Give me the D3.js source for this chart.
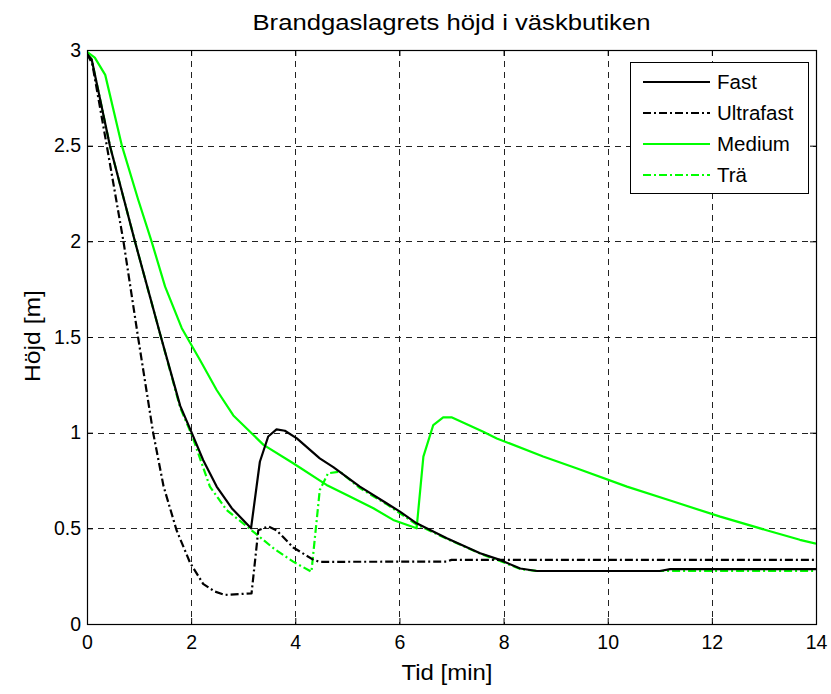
<!DOCTYPE html>
<html>
<head>
<meta charset="utf-8">
<script src="https://cdn.jsdelivr.net/npm/d3@7"></script>
<style>
  body { margin: 0; background: #fff; }
  svg { font-family: "Liberation Sans", Arial, sans-serif; }
</style>
</head>
<body>
<svg id="chart" width="831" height="694"></svg>
<script>
// Tid [min], Höjd [m]
var fast = [
	[0, 2.98], [0.09, 2.95], [0.44, 2.5], [0.92, 2.0], [1.21, 1.71], [1.42, 1.5],
	[1.79, 1.14], [2.01, 1.0], [2.23, 0.857], [2.49, 0.718], [2.78, 0.605], [3.15, 0.50],
	[3.32, 0.848], [3.48, 0.98], [3.64, 1.017], [3.80, 1.01], [4.03, 0.97], [4.47, 0.866],
	[4.73, 0.82], [5.24, 0.718], [5.76, 0.63], [6.01, 0.587], [6.33, 0.526], [6.91, 0.448],
	[7.55, 0.37], [7.93, 0.335], [8.32, 0.29], [8.64, 0.277], [11.0, 0.277], [11.2, 0.287],
	[14, 0.287]
];

var ultrafast = [
	[0, 2.98], [0.1, 2.93], [0.38, 2.5], [0.70, 2.0], [0.98, 1.5], [1.27, 1.0],
	[1.47, 0.72], [1.72, 0.49], [1.98, 0.32], [2.23, 0.21], [2.45, 0.17], [2.65, 0.152],
	[3.16, 0.16], [3.29, 0.49], [3.48, 0.51], [3.64, 0.49], [3.96, 0.40], [4.35, 0.335],
	[4.47, 0.325], [6.91, 0.326], [7.0, 0.335], [14, 0.335]
];

var medium = [
	[0, 2.99], [0.15, 2.96], [0.35, 2.87], [0.67, 2.5], [0.985, 2.216], [1.24, 2.0],
	[1.50, 1.763], [1.82, 1.546], [2.17, 1.38], [2.49, 1.223], [2.81, 1.09], [3.39, 0.936],
	[3.96, 0.84], [4.60, 0.727], [4.99, 0.674], [5.50, 0.605], [5.88, 0.544], [6.33, 0.50],
	[6.46, 0.875], [6.65, 1.04], [6.84, 1.08], [7.0, 1.08], [7.61, 1.005], [7.87, 0.97],
	[8.76, 0.875], [9.40, 0.814], [10.37, 0.718], [11.26, 0.64], [12.16, 0.561],
	[13.05, 0.49], [13.69, 0.44], [14.0, 0.42]
];

var tra = [
	[0, 2.98], [0.09, 2.95], [0.44, 2.5], [0.92, 2.0], [1.21, 1.71], [1.42, 1.5],
	[1.79, 1.13], [2.01, 0.99], [2.36, 0.718], [2.68, 0.596], [3.16, 0.49], [3.58, 0.396],
	[3.96, 0.326], [4.31, 0.273], [4.47, 0.70], [4.63, 0.788], [4.86, 0.796], [5.24, 0.71],
	[5.76, 0.625], [6.33, 0.52], [6.91, 0.445], [7.55, 0.368], [7.93, 0.33], [8.32, 0.287],
	[8.64, 0.277], [14, 0.277]
];

var xTicks = [0, 2, 4, 6, 8, 10, 12, 14];
var yTicks = [0, 0.5, 1, 1.5, 2, 2.5, 3];

var series = [
	{ name: "Fast", data: fast, color: "#000000", dash: null },
	{ name: "Ultrafast", data: ultrafast, color: "#000000", dash: "8,3,2,3" },
	{ name: "Medium", data: medium, color: "#00ff00", dash: null },
	{ name: "Trä", data: tra, color: "#00ff00", dash: "8,3,2,3" }
];

var svg = d3.select("#chart");
var margin = { left: 87, top: 50, right: 15, bottom: 70 };
var width = 831 - margin.left - margin.right;
var height = 694 - margin.top - margin.bottom;

var x = d3.scaleLinear().domain([0, 14]).range([0, width]);
var y = d3.scaleLinear().domain([0, 3]).range([height, 0]);

var g = svg.append("g")
	.attr("transform", "translate(" + margin.left + "," + margin.top + ")");

// grid
g.append("g").selectAll("line")
	.data(xTicks.slice(1, -1))
	.enter().append("line")
	.attr("x1", function (d) { return Math.round(x(d)) + 0.5; })
	.attr("x2", function (d) { return Math.round(x(d)) + 0.5; })
	.attr("y1", 0).attr("y2", height)
	.attr("stroke", "#222").attr("stroke-width", 1)
	.attr("stroke-dasharray", "6,5");

g.append("g").selectAll("line")
	.data(yTicks.slice(1, -1))
	.enter().append("line")
	.attr("y1", function (d) { return Math.round(y(d)) + 0.5; })
	.attr("y2", function (d) { return Math.round(y(d)) + 0.5; })
	.attr("x1", 0).attr("x2", width)
	.attr("stroke", "#222").attr("stroke-width", 1)
	.attr("stroke-dasharray", "6,5");

// axes with inward ticks
var fmt = function (d) { return String(d); };
var xAxis = g.append("g")
	.attr("transform", "translate(0," + height + ")")
	.call(d3.axisBottom(x).tickValues(xTicks).tickSizeInner(-6).tickSizeOuter(0).tickPadding(11).tickFormat(fmt));
var xAxisTop = g.append("g")
	.call(d3.axisTop(x).tickValues(xTicks).tickSizeInner(-6).tickSizeOuter(0).tickFormat(""));
var yAxis = g.append("g")
	.call(d3.axisLeft(y).tickValues(yTicks).tickSizeInner(-6).tickSizeOuter(0).tickPadding(6).tickFormat(fmt));
var yAxisRight = g.append("g")
	.attr("transform", "translate(" + width + ",0)")
	.call(d3.axisRight(y).tickValues(yTicks).tickSizeInner(-6).tickSizeOuter(0).tickFormat(""));

[xAxis, xAxisTop, yAxis, yAxisRight].forEach(function (a) {
	a.selectAll("path").remove();
	a.selectAll("line").attr("stroke", "#000");
	a.selectAll("text").attr("font-size", 19.5).attr("fill", "#000")
		.style("font-family", "'Liberation Sans', Arial, sans-serif");
});

// lines
var line = d3.line()
	.x(function (d) { return x(d[0]); })
	.y(function (d) { return y(d[1]); });

g.append("clipPath").attr("id", "clip")
	.append("rect").attr("width", width).attr("height", height);

g.append("g").attr("clip-path", "url(#clip)")
	.selectAll("path")
	.data(series.slice().reverse())
	.enter().append("path")
	.attr("d", function (d) { return line(d.data); })
	.attr("fill", "none")
	.attr("stroke", function (d) { return d.color; })
	.attr("stroke-width", 2.2)
	.attr("stroke-linejoin", "round")
	.attr("stroke-dasharray", function (d) { return d.dash; });

// frame
g.append("rect")
	.attr("x", 0.5).attr("y", 0.5)
	.attr("width", width).attr("height", height)
	.attr("fill", "none").attr("stroke", "#000").attr("stroke-width", 1.2);

// legend
var leg = g.append("g").attr("transform", "translate(" + (630 - margin.left) + "," + (62 - margin.top) + ")");
leg.append("rect")
	.attr("x", 0.5).attr("y", 0.5)
	.attr("width", 178).attr("height", 131)
	.attr("fill", "#fff").attr("stroke", "#000").attr("stroke-width", 1);

var item = leg.selectAll("g.item")
	.data(series)
	.enter().append("g")
	.attr("class", "item")
	.attr("transform", function (d, i) { return "translate(0," + (20 + i * 31) + ")"; });

item.append("line")
	.attr("x1", 13).attr("x2", 80)
	.attr("stroke", function (d) { return d.color; })
	.attr("stroke-width", 2.2)
	.attr("stroke-dasharray", function (d) { return d.dash; });

item.append("text")
	.attr("x", 87).attr("dy", "0.36em")
	.attr("font-size", 20.5)
	.text(function (d) { return d.name; });

// title and labels
svg.append("text")
	.attr("x", margin.left + width / 2).attr("y", 30)
	.attr("text-anchor", "middle").attr("font-size", 22)
	.attr("textLength", 398).attr("lengthAdjust", "spacingAndGlyphs")
	.text("Brandgaslagrets höjd i väskbutiken");

svg.append("text")
	.attr("x", 447).attr("y", 680)
	.attr("text-anchor", "middle").attr("font-size", 22)
	.attr("textLength", 91).attr("lengthAdjust", "spacingAndGlyphs")
	.text("Tid [min]");

svg.append("text")
	.attr("transform", "translate(40," + 336 + ") rotate(-90)")
	.attr("text-anchor", "middle").attr("font-size", 22)
	.attr("textLength", 92).attr("lengthAdjust", "spacingAndGlyphs")
	.text("Höjd [m]");
</script>
</body>
</html>
